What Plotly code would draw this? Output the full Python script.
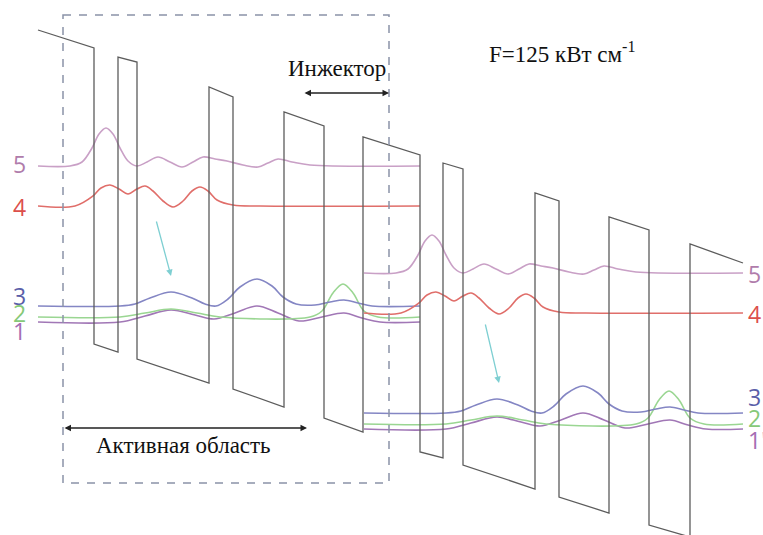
import plotly.graph_objects as go

# ---- conduction band profile (vertices, picture units) ----
band_x = [38, 94, 94, 118, 118, 137, 137, 209, 209, 233, 233, 284, 284, 324, 324, 363, 363,
          420, 420, 443, 443, 463, 463, 535, 535, 559, 559, 609, 609, 649, 649, 690, 690, 743]
band_y = [30, 48, 344, 352, 57, 62, 359, 383, 87, 97, 389, 407, 112, 126, 418, 432, 137,
          155, 452, 458, 163, 169, 465, 489, 193, 201, 497, 513, 217, 230, 525, 537, 244, 263]

# ---- wavefunctions of the first period (levels 1..5) ----
lvl5_x = [38, 70, 82, 92, 99, 106, 113, 120, 128, 137, 147, 158, 170, 182, 193, 203, 215, 227,
          243, 258, 268, 278, 292, 310, 420]
lvl5_y = [166, 166, 162, 148, 134, 128, 134, 148, 161, 166, 162, 157, 162, 167, 162, 157, 159, 161,
          165, 167, 163, 159, 162, 165, 166]
lvl4_x = [38, 75, 93, 101, 110, 119, 128, 137, 145, 153, 163, 173, 183, 192, 200, 208, 217, 233, 260, 420]
lvl4_y = [206, 206, 196, 188, 185, 189, 194, 189, 186, 191, 201, 207, 201, 191, 187, 191, 200, 205, 206, 206]
lvl3_x = [38, 120, 135, 150, 171, 192, 205, 216, 228, 240, 257, 272, 283, 296, 315, 330, 344, 358, 372, 420]
lvl3_y = [306, 306, 304, 298, 292, 298, 304, 306, 299, 287, 279, 286, 297, 304, 305, 302, 300, 303, 306, 306]
lvl2_x = [38, 120, 145, 171, 197, 220, 310, 322, 333, 343, 353, 364, 378, 420]
lvl2_y = [317, 317, 313, 309, 313, 317, 317, 311, 293, 284, 293, 311, 317, 317]
lvl1_x = [38, 120, 145, 171, 195, 214, 235, 257, 278, 299, 322, 344, 362, 380, 420]
lvl1_y = [322, 322, 316, 310, 315, 319, 313, 306, 313, 321, 317, 313, 318, 322, 322]

period_shift_x = 326
period_shift_y = 107
right_end = 743

lvl_colors = {"5": "#c9a0c6", "4": "#e06e6a", "3": "#8486c4", "2": "#9ad692", "1": "#a177b6"}
label_colors = {"5": "#b07cab", "4": "#dc4f4b", "3": "#5b5fa9", "2": "#86c978", "1": "#a56cb3"}

left_labels = ["5", "4", "3", "2", "1"]
left_label_y = [164, 207, 296, 313, 331]
right_labels = ["5", "4", "3", "2", "1'"]
right_label_y = [274, 314, 397, 418, 440]

levels = {"5": (lvl5_x, lvl5_y), "4": (lvl4_x, lvl4_y), "3": (lvl3_x, lvl3_y),
          "2": (lvl2_x, lvl2_y), "1": (lvl1_x, lvl1_y)}

fig = go.Figure()

for key in ["1", "2", "3", "4", "5"]:
    xs, ys = levels[key]
    fig.add_trace(go.Scatter(x=xs, y=ys, mode="lines",
                             line=dict(color=lvl_colors[key], width=1.6, shape="spline", smoothing=1.0),
                             hoverinfo="skip", showlegend=False))
    x2 = [min(v + period_shift_x, right_end) for v in xs]
    y2 = [v + period_shift_y for v in ys]
    fig.add_trace(go.Scatter(x=x2, y=y2, mode="lines",
                             line=dict(color=lvl_colors[key], width=1.6, shape="spline", smoothing=1.0),
                             hoverinfo="skip", showlegend=False))

fig.add_trace(go.Scatter(x=band_x, y=band_y, mode="lines",
                         line=dict(color="#5c5c5c", width=1.3),
                         hoverinfo="skip", showlegend=False))

# dashed box around one period
fig.add_shape(type="rect", x0=63, x1=389, y0=15, y1=483, xref="x", yref="y",
              line=dict(color="#8a93a8", width=1.5, dash="8px,8px"))

ann = []
for t, yy in zip(left_labels, left_label_y):
    ann.append(dict(x=19, y=yy, text=t, showarrow=False, xref="x", yref="y",
                    font=dict(family="Open Sans", size=23, color=label_colors[t])))
for t, yy in zip(right_labels, right_label_y):
    ann.append(dict(x=746, y=yy, text=t, showarrow=False, xref="x", yref="y", xanchor="left",
                    font=dict(family="Open Sans", size=23, color=label_colors[t[0]])))

ann.append(dict(x=337, y=68, text="Инжектор", showarrow=False, xref="x", yref="y",
                font=dict(family="Liberation Serif", size=23, color="#111")))
ann.append(dict(x=183, y=445, text="Активная область", showarrow=False, xref="x", yref="y",
                font=dict(family="Liberation Serif", size=23, color="#111")))
ann.append(dict(x=562, y=52, text="F=125 кВт см<sup>-1</sup>", showarrow=False, xref="x", yref="y",
                font=dict(family="Liberation Serif", size=23, color="#111")))

# double arrows
ann.append(dict(x=389, y=93, ax=303, ay=93, xref="x", yref="y", axref="x", ayref="y",
                text="", showarrow=True, arrowhead=2, arrowside="end+start",
                arrowsize=1, arrowwidth=1.3, arrowcolor="#222"))
ann.append(dict(x=307, y=428, ax=63, ay=428, xref="x", yref="y", axref="x", ayref="y",
                text="", showarrow=True, arrowhead=2, arrowside="end+start",
                arrowsize=1, arrowwidth=1.3, arrowcolor="#222"))
# transition arrows
ann.append(dict(x=171, y=276, ax=156, ay=220, xref="x", yref="y", axref="x", ayref="y",
                text="", showarrow=True, arrowhead=2, arrowsize=1, arrowwidth=1.3, arrowcolor="#7ecfd2"))
ann.append(dict(x=499, y=383, ax=485, ay=323, xref="x", yref="y", axref="x", ayref="y",
                text="", showarrow=True, arrowhead=2, arrowsize=1, arrowwidth=1.3, arrowcolor="#7ecfd2"))

fig.update_layout(width=763, height=535, margin=dict(l=0, r=0, t=0, b=0),
                  paper_bgcolor="white", plot_bgcolor="white", annotations=ann,
                  xaxis=dict(range=[0, 763], visible=False, fixedrange=True),
                  yaxis=dict(range=[535, 0], visible=False, fixedrange=True))

fig.write_html("out.html", config={"displayModeBar": False},
               post_script="document.body.style.margin='0px';document.body.style.overflow='hidden';")
